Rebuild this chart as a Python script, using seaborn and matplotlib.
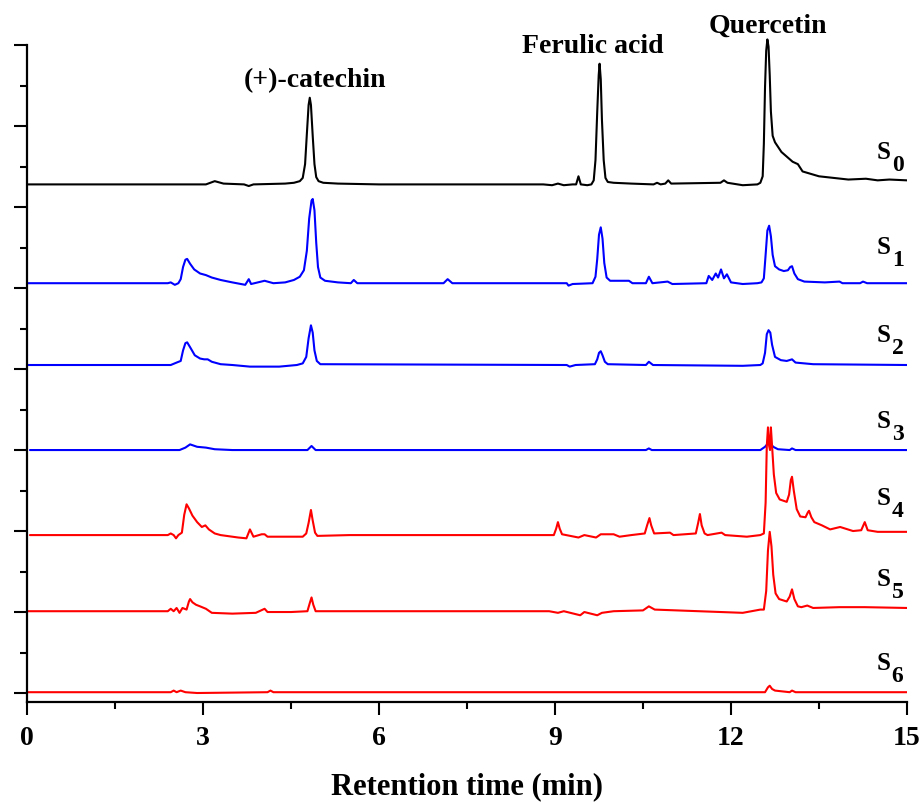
import numpy as np
import pandas as pd
import matplotlib
matplotlib.use("Agg")
import matplotlib.pyplot as plt
import seaborn as sns
from matplotlib.ticker import MultipleLocator

# ---------------- data ----------------
# each trace: (retention time in min, signal above its own baseline)
sample_ids = ["0", "1", "2", "3", "4", "5", "6"]
sample_colors = ["#000000", "#0000ff", "#0000ff", "#0000ff", "#ff0000", "#ff0000", "#ff0000"]
baseline_offsets = [6.28, 5.06, 4.05, 3.00, 1.95, 1.01, 0.01]

s0_points = [
    (0.0, 0.0), (2.5, 0.0), (3.05, 0.0), (3.2, 0.04), (3.35, 0.01), (3.7, 0.0), (3.78, -0.02), (3.86, 0.0),
    (4.4, 0.01), (4.55, 0.02), (4.65, 0.04), (4.70, 0.08), (4.74, 0.25), (4.77, 0.62), (4.80, 0.98),
    (4.82, 1.07), (4.84, 0.98), (4.87, 0.60), (4.90, 0.25), (4.93, 0.09), (4.97, 0.04), (5.05, 0.02),
    (5.3, 0.01), (6.0, 0.0), (8.8, 0.0), (8.95, -0.01), (9.05, 0.01), (9.15, -0.01), (9.30, 0.0),
    (9.36, 0.0), (9.40, 0.10), (9.44, 0.0), (9.55, -0.01), (9.62, 0.0), (9.66, 0.05), (9.69, 0.30),
    (9.72, 0.90), (9.745, 1.35), (9.76, 1.49), (9.78, 1.30), (9.80, 0.80), (9.83, 0.30), (9.86, 0.08),
    (9.90, 0.03), (10.0, 0.02), (10.3, 0.01), (10.68, 0.0), (10.74, 0.02), (10.80, 0.0), (10.88, 0.01),
    (10.93, 0.05), (10.98, 0.01), (11.82, 0.02), (11.88, 0.05), (11.94, 0.02), (12.2, -0.01),
    (12.45, 0.0), (12.50, 0.02), (12.54, 0.10), (12.56, 0.50), (12.58, 1.20), (12.60, 1.65),
    (12.62, 1.79), (12.64, 1.70), (12.66, 1.35), (12.68, 0.90), (12.71, 0.60), (12.75, 0.52),
    (12.86, 0.40), (13.05, 0.28), (13.14, 0.25), (13.22, 0.16), (13.5, 0.10), (14.0, 0.06),
    (14.3, 0.07), (14.5, 0.05), (14.7, 0.06), (15.0, 0.05)]

s1_points = [
    (0.0, 0.0), (2.4, 0.0), (2.45, 0.01), (2.52, -0.02), (2.58, 0.0), (2.62, 0.05), (2.66, 0.20),
    (2.70, 0.29), (2.73, 0.30), (2.78, 0.24), (2.85, 0.17), (2.95, 0.12), (3.05, 0.10), (3.15, 0.07),
    (3.3, 0.04), (3.5, 0.01), (3.72, -0.02), (3.78, 0.05), (3.82, -0.01), (4.05, 0.03), (4.2, 0.0),
    (4.40, 0.01), (4.55, 0.04), (4.65, 0.08), (4.72, 0.16), (4.77, 0.40), (4.81, 0.80), (4.85, 1.02),
    (4.87, 1.04), (4.90, 0.90), (4.93, 0.50), (4.96, 0.20), (5.0, 0.07), (5.08, 0.03), (5.3, 0.01),
    (5.52, 0.0), (5.57, 0.04), (5.63, 0.0), (7.1, 0.0), (7.17, 0.05), (7.25, 0.0), (9.2, 0.0),
    (9.23, -0.03), (9.3, -0.01), (9.64, 0.0), (9.69, 0.08), (9.72, 0.30), (9.75, 0.60), (9.78, 0.69),
    (9.81, 0.55), (9.84, 0.25), (9.88, 0.07), (9.94, 0.03), (10.26, 0.03), (10.32, 0.0), (10.55, 0.0),
    (10.60, 0.08), (10.66, 0.0), (10.92, 0.02), (11.0, -0.01), (11.58, 0.0), (11.62, 0.09),
    (11.68, 0.04), (11.74, 0.12), (11.78, 0.07), (11.83, 0.17), (11.88, 0.06), (11.93, 0.11),
    (12.0, 0.01), (12.2, -0.01), (12.45, 0.0), (12.52, 0.01), (12.56, 0.06), (12.59, 0.35),
    (12.62, 0.65), (12.65, 0.71), (12.68, 0.58), (12.71, 0.35), (12.75, 0.21), (12.82, 0.17),
    (12.9, 0.15), (12.97, 0.16), (13.01, 0.20), (13.04, 0.21), (13.08, 0.12), (13.14, 0.05),
    (13.25, 0.02), (13.6, 0.01), (13.85, 0.02), (13.9, 0.0), (14.2, 0.0), (14.25, 0.02),
    (14.32, 0.0), (15.0, 0.0)]

s2_points = [
    (0.0, 0.0), (2.45, 0.0), (2.55, 0.03), (2.62, 0.05), (2.66, 0.18), (2.70, 0.27), (2.73, 0.28),
    (2.78, 0.22), (2.86, 0.12), (2.95, 0.08), (3.02, 0.07), (3.08, 0.07), (3.15, 0.04), (3.3, 0.01),
    (3.5, 0.0), (3.8, -0.02), (4.3, -0.02), (4.6, 0.0), (4.70, 0.02), (4.76, 0.10), (4.80, 0.33),
    (4.84, 0.49), (4.87, 0.40), (4.90, 0.18), (4.94, 0.05), (5.0, 0.01), (9.2, 0.0), (9.25, -0.02),
    (9.35, 0.0), (9.68, 0.01), (9.72, 0.07), (9.75, 0.15), (9.78, 0.17), (9.81, 0.12), (9.85, 0.04),
    (9.9, 0.01), (10.55, 0.0), (10.60, 0.04), (10.67, 0.0), (12.2, -0.01), (12.5, 0.0), (12.54, 0.02),
    (12.58, 0.15), (12.61, 0.38), (12.64, 0.43), (12.67, 0.40), (12.70, 0.25), (12.75, 0.10),
    (12.85, 0.06), (12.95, 0.05), (13.04, 0.07), (13.1, 0.03), (13.4, 0.01), (15.0, 0.0)]

s3_points = [
    (0.05, 0.0), (2.6, 0.0), (2.7, 0.03), (2.78, 0.07), (2.9, 0.04), (3.05, 0.03), (3.2, 0.01),
    (3.5, 0.0), (4.78, 0.0), (4.85, 0.05), (4.92, 0.0), (10.55, 0.0), (10.6, 0.02), (10.65, 0.0),
    (12.5, 0.0), (12.58, 0.04), (12.65, 0.10), (12.72, 0.04), (12.8, 0.01), (13.0, 0.0),
    (13.04, 0.02), (13.1, 0.0), (15.0, 0.0)]

s4_points = [
    (0.05, 0.0), (2.4, 0.0), (2.45, 0.02), (2.5, 0.0), (2.54, -0.04), (2.58, 0.0), (2.62, 0.02),
    (2.64, 0.03), (2.68, 0.25), (2.72, 0.38), (2.76, 0.33), (2.82, 0.24), (2.9, 0.16), (2.98, 0.10),
    (3.04, 0.12), (3.1, 0.07), (3.2, 0.02), (3.3, 0.0), (3.6, -0.03), (3.74, -0.04), (3.8, 0.07),
    (3.86, -0.02), (4.0, 0.01), (4.05, 0.01), (4.1, -0.02), (4.7, -0.02), (4.76, 0.02), (4.80, 0.15),
    (4.84, 0.31), (4.87, 0.18), (4.91, 0.03), (4.95, -0.01), (5.5, 0.0), (8.95, 0.0), (8.98, 0.0),
    (9.02, 0.08), (9.05, 0.16), (9.08, 0.08), (9.12, 0.01), (9.4, -0.03), (9.5, 0.0), (9.7, -0.03),
    (9.78, 0.01), (10.0, 0.01), (10.1, -0.02), (10.3, 0.0), (10.53, 0.02), (10.57, 0.12),
    (10.61, 0.21), (10.64, 0.12), (10.69, 0.02), (10.96, 0.03), (11.02, 0.0), (11.40, 0.02),
    (11.44, 0.15), (11.47, 0.26), (11.50, 0.12), (11.55, 0.02), (11.6, 0.0), (11.84, 0.03),
    (11.9, 0.0), (12.27, -0.02), (12.5, 0.0), (12.56, 0.02), (12.59, 0.40), (12.61, 1.10),
    (12.63, 1.33), (12.65, 1.10), (12.665, 1.05), (12.68, 1.33), (12.70, 1.10), (12.73, 0.75),
    (12.77, 0.52), (12.83, 0.44), (12.95, 0.41), (12.99, 0.50), (13.02, 0.68), (13.04, 0.72),
    (13.07, 0.55), (13.12, 0.32), (13.18, 0.23), (13.27, 0.22), (13.31, 0.28), (13.33, 0.30),
    (13.37, 0.22), (13.42, 0.16), (13.55, 0.12), (13.69, 0.07), (13.86, 0.10), (14.08, 0.05),
    (14.22, 0.06), (14.28, 0.16), (14.33, 0.06), (14.5, 0.04), (15.0, 0.04)]

s5_points = [
    (0.0, 0.0), (2.4, 0.0), (2.45, 0.03), (2.5, 0.0), (2.55, 0.04), (2.6, -0.02), (2.65, 0.04),
    (2.72, 0.02), (2.76, 0.12), (2.78, 0.15), (2.82, 0.11), (2.88, 0.08), (2.95, 0.06), (3.05, 0.03),
    (3.15, -0.02), (3.5, -0.03), (3.9, -0.02), (4.05, 0.03), (4.1, -0.01), (4.5, -0.01), (4.78, 0.0),
    (4.82, 0.10), (4.85, 0.17), (4.88, 0.08), (4.92, 0.0), (5.5, 0.0), (8.9, 0.0), (9.05, -0.02),
    (9.15, 0.0), (9.43, -0.05), (9.5, -0.01), (9.72, -0.05), (9.8, -0.02), (10.0, 0.0), (10.5, 0.01),
    (10.6, 0.06), (10.7, 0.02), (12.2, -0.02), (12.5, 0.02), (12.56, 0.02), (12.60, 0.25),
    (12.63, 0.75), (12.66, 0.98), (12.69, 0.80), (12.72, 0.45), (12.76, 0.22), (12.82, 0.15),
    (12.95, 0.12), (13.0, 0.18), (13.04, 0.27), (13.08, 0.15), (13.14, 0.06), (13.2, 0.05),
    (13.3, 0.07), (13.4, 0.04), (13.85, 0.05), (14.28, 0.05), (15.0, 0.04)]

s6_points = [
    (0.0, 0.0), (2.45, 0.0), (2.5, 0.02), (2.55, 0.0), (2.62, 0.02), (2.7, 0.0), (2.9, -0.01),
    (4.1, 0.0), (4.15, 0.02), (4.2, 0.0), (12.58, 0.0), (12.63, 0.06), (12.66, 0.08), (12.70, 0.04),
    (12.75, 0.02), (13.0, 0.0), (13.04, 0.02), (13.1, 0.0), (15.0, 0.0)]

traces = [s0_points, s1_points, s2_points, s3_points, s4_points, s5_points, s6_points]

compound_names = ["(+)-catechin", "Ferulic acid", "Quercetin"]
compound_x = [4.91, 9.64, 12.63]
compound_y = [7.49, 7.91, 8.16]

label_y = [6.60, 5.43, 4.35, 3.28, 2.33, 1.33, 0.30]

x_ticks = [0, 3, 6, 9, 12, 15]

# ---------------- plotting ----------------
sns.set_theme(style="ticks")
plt.rcParams["font.family"] = ["Liberation Serif", "DejaVu Serif"]
plt.rcParams["font.weight"] = "bold"
plt.rcParams["text.color"] = "black"
plt.rcParams["axes.labelcolor"] = "black"
plt.rcParams["xtick.color"] = "black"
plt.rcParams["ytick.color"] = "black"
plt.rcParams["axes.edgecolor"] = "black"

frames = []
for sid, pts, off in zip(sample_ids, traces, baseline_offsets):
    t = [p[0] for p in pts]
    v = [p[1] for p in pts]
    frames.append(pd.DataFrame({"sample": sid, "time": t, "signal": np.array(v) + off}))
df = pd.concat(frames, ignore_index=True)

fig = plt.figure(figsize=(9.23, 8.03), dpi=100)
ax = fig.add_axes([27 / 923, 100 / 803, 880 / 923, 665 / 803])

sns.lineplot(data=df, x="time", y="signal", hue="sample", units="sample",
             palette=dict(zip(sample_ids, sample_colors)), estimator=None, sort=False,
             legend=False, linewidth=1.5, ax=ax)

ax.set_xlim(0, 15)
ax.set_ylim(-0.111, 8.1)
ax.spines["top"].set_visible(False)
ax.spines["right"].set_visible(False)
ax.spines["left"].set_bounds(-0.111, 8.0)
for s in ("left", "bottom"):
    ax.spines[s].set_linewidth(1.6)
    ax.spines[s].set_color("black")

ax.set_xticks(x_ticks)
ax.set_xticklabels([str(x) for x in x_ticks])
ax.xaxis.set_minor_locator(MultipleLocator(1.5))
ax.set_yticks(range(0, 9))
ax.yaxis.set_minor_locator(MultipleLocator(0.5))
ax.set_yticklabels([])
ax.tick_params(axis="both", which="major", direction="out", length=9.5, width=1.5,
               labelsize=20, pad=7, color="black", labelcolor="black")
ax.tick_params(axis="both", which="minor", direction="out", length=5, width=1.5, color="black")
for lab in ax.get_xticklabels():
    lab.set_fontweight("bold")

ax.set_xlabel("Retention time (min)", fontsize=22, fontweight="bold", labelpad=15, color="black")
ax.set_ylabel("")

for name, x, y in zip(compound_names, compound_x, compound_y):
    ax.text(x, y, name, ha="center", va="baseline", fontsize=20, fontweight="bold",
            color="black", clip_on=False)

for sid, y in zip(sample_ids, label_y):
    ax.text(14.49, y, "S", ha="left", va="baseline", fontsize=18, fontweight="bold", color="black")
    ax.annotate(sid, xy=(14.49, y), xytext=(10.5, -8.6), textcoords="offset points",
                ha="left", va="baseline", fontsize=17, fontweight="bold", color="black")

fig.savefig("out.png", dpi=100)
